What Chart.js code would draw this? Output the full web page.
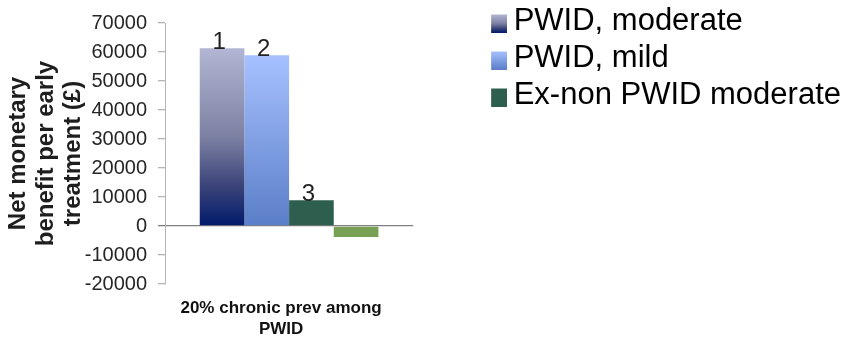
<!DOCTYPE html>
<html>
<head>
<meta charset="utf-8">
<script src="https://cdn.jsdelivr.net/npm/chart.js@4/dist/chart.umd.min.js"></script>
<style>
  html, body { margin: 0; padding: 0; background: #ffffff; }
  #wrap { width: 854px; height: 341px; }
</style>
</head>
<body>
<div id="wrap"><canvas id="chart" width="854" height="341"></canvas></div>
<script>
// Category (split over two lines on the axis)
const categories = [['20% chronic prev among', 'PWID']];

// Series names (the last series has no legend entry)
const seriesNames = ['PWID, moderate', 'PWID, mild', 'Ex-non PWID moderate', ''];

// Net monetary benefit per early treatment (£)
const pwidModerate = [61300];
const pwidMild = [58900];
const exNonPwidModerate = [8900];
const fourthSeries = [-3800];

// Rank tags shown above the bars
const barTags = ['1', '2', '3', ''];

// Value axis
const yMin = -20000;
const yMax = 70000;
const yStep = 10000;

const FONT = "'Liberation Sans', Arial, Helvetica, sans-serif";

// Fill styles: gradient stop lists (top to bottom) or flat colours
const fills = [
  [[0, '#b2b6d4'], [0.5, '#7c81a3'], [0.78, '#3a4379'], [1, '#011a6c']],
  [[0, '#a7c1ff'], [1, '#5a7ec8']],
  '#2d5e4e',
  '#78a156'
];

function barFill(spec) {
  if (typeof spec === 'string') return spec;
  return (ctx) => {
    const chart = ctx.chart;
    if (!chart.chartArea || ctx.type !== 'data') return spec[0][1];
    const y = chart.scales.y;
    const v = ctx.raw;
    const top = y.getPixelForValue(Math.max(v, 0));
    const bottom = y.getPixelForValue(Math.min(v, 0));
    const g = chart.ctx.createLinearGradient(0, top, 0, bottom === top ? top + 1 : bottom);
    spec.forEach(([o, c]) => g.addColorStop(o, c));
    return g;
  };
}

// Legend swatch: 18px square sitting at the bottom of a 22px tall image
function swatch(spec) {
  const c = document.createElement('canvas');
  c.width = 18; c.height = 22;
  const g2 = c.getContext('2d');
  if (typeof spec === 'string') {
    g2.fillStyle = spec;
  } else {
    const g = g2.createLinearGradient(0, 4, 0, 22);
    spec.forEach(([o, col]) => g.addColorStop(o, col));
    g2.fillStyle = g;
  }
  g2.fillRect(0, 4, 18, 18);
  return c;
}

const seriesValues = [pwidModerate, pwidMild, exNonPwidModerate, fourthSeries];

const datasets = seriesValues.map((vals, i) => ({
  label: seriesNames[i],
  data: vals,
  backgroundColor: barFill(fills[i]),
  borderWidth: 0,
  categoryPercentage: 0.72,
  barPercentage: 1.0
}));

const barTagPlugin = {
  id: 'barTags',
  afterDatasetsDraw(chart) {
    const ctx = chart.ctx;
    ctx.save();
    ctx.font = '24px ' + FONT;
    ctx.fillStyle = '#222222';
    ctx.textAlign = 'center';
    ctx.textBaseline = 'alphabetic';
    barTags.forEach((tag, i) => {
      if (!tag) return;
      const bar = chart.getDatasetMeta(i).data[0];
      ctx.fillText(tag, bar.x - 3, bar.y + 1);
    });
    ctx.restore();
  }
};

new Chart(document.getElementById('chart'), {
  type: 'bar',
  data: { labels: categories, datasets },
  plugins: [barTagPlugin],
  options: {
    responsive: false,
    animation: false,
    layout: { padding: { top: 0, right: 3, bottom: 0, left: 0 } },
    plugins: {
      tooltip: { enabled: false },
      legend: {
        position: 'right',
        align: 'start',
        maxWidth: 600,
        labels: {
          font: { family: FONT, size: 31 },
          color: '#262626',
          padding: 6,
          usePointStyle: true,
          boxWidth: 1,
          boxHeight: 31,
          generateLabels(chart) {
            return chart.data.datasets
              .map((ds, i) => ({
                text: ds.label,
                fillStyle: typeof fills[i] === 'string' ? fills[i] : fills[i][0][1],
                strokeStyle: 'rgba(0,0,0,0)',
                lineWidth: 0,
                pointStyle: swatch(fills[i]),
                hidden: false,
                datasetIndex: i
              }))
              .filter(item => item.text !== '');
          }
        }
      }
    },
    scales: {
      x: {
        position: 'bottom',
        grid: { display: false, drawTicks: false },
        border: { display: false },
        ticks: {
          font: { family: FONT, size: 17, weight: 'bold', lineHeight: 1.28 },
          color: '#111111',
          padding: 13,
          labelOffset: -8,
          maxRotation: 0
        },
        afterFit(scale) { scale.height = 57; }
      },
      y: {
        position: 'left',
        min: yMin,
        max: yMax,
        ticks: {
          stepSize: yStep,
          font: { family: FONT, size: 20 },
          color: '#262626',
          padding: 11,
          callback: (v) => String(v)
        },
        grid: {
          drawOnChartArea: true,
          color: (c) => (c.tick && c.tick.value === 0 ? '#808080' : 'rgba(0,0,0,0)'),
          tickColor: (c) => (c.tick && c.tick.value === 0 ? '#808080' : '#b5b5b5'),
          tickLength: 7,
          lineWidth: 1.3
        },
        border: { display: true, color: '#b5b5b5', width: 1 },
        title: {
          display: true,
          text: ['Net monetary', 'benefit per early', 'treatment (£)'],
          font: { family: FONT, size: 24, weight: 'bold', lineHeight: 1.145 },
          color: '#1e1e1e',
          padding: { top: 5, bottom: 0 }
        },
        afterFit(scale) { scale.width = 165; }
      },
      xTop: {
        type: 'linear',
        position: 'top',
        display: true,
        grid: { display: false, drawTicks: false },
        border: { display: false },
        ticks: { display: false },
        afterFit(scale) { scale.height = 15; }
      },
      yGap: {
        type: 'linear',
        position: 'right',
        display: true,
        grid: { display: false, drawTicks: false },
        border: { display: false },
        ticks: { display: false },
        afterFit(scale) { scale.width = 78; }
      }
    }
  }
});
</script>
</body>
</html>
